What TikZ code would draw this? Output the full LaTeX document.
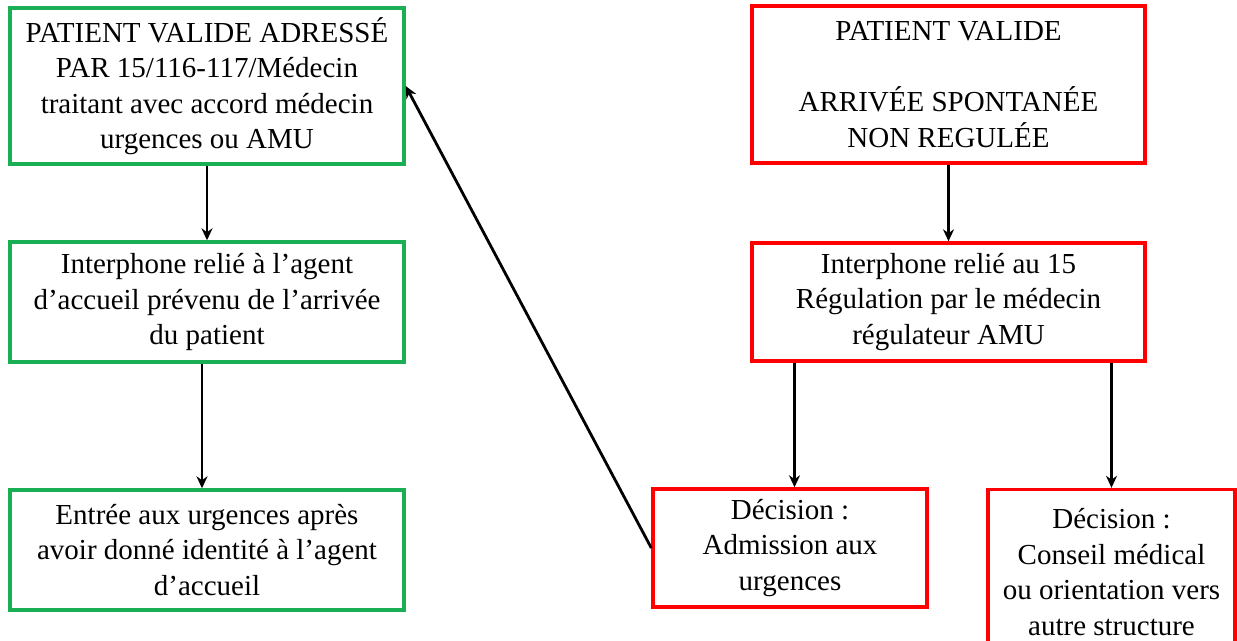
\documentclass[tikz,border=0pt]{standalone}
\usepackage{fontspec}
\setmainfont{Liberation Serif}
\usetikzlibrary{arrows.meta}
\definecolor{boxgreen}{HTML}{1AAF54}
\definecolor{boxred}{HTML}{FF0000}
\begin{document}
\begin{tikzpicture}[x=1pt,y=-1pt,
  box/.style={draw, line width=3.4pt, rectangle, inner sep=0pt, align=center,
    font=\fontsize{29}{35.5}\selectfont},
  greenbox/.style={box, draw=boxgreen},
  redbox/.style={box, draw=boxred},
  flow/.style={line width=2.8pt, -{Stealth[length=12pt,width=11pt]}}]
  \clip (0,0) rectangle (1237,640);
  \fill[white] (0,0) rectangle (1237,640);

  % left column: referred patient
  \node[greenbox, minimum width=394pt, minimum height=156pt] (g1) at (207,86)
    {PATIENT VALIDE ADRESSÉ\\PAR 15/116-117/Médecin\\traitant avec accord médecin\\urgences ou AMU};
  \node[greenbox, minimum width=394pt, minimum height=120pt] (g2) at (207,302)
    {Interphone relié à l’agent\\d’accueil prévenu de l’arrivée\\du patient};
  \node[greenbox, minimum width=394pt, minimum height=120pt] (g3) at (207,550)
    {Entrée aux urgences après\\avoir donné identité à l’agent\\d’accueil};

  % right column: spontaneous arrival
  \node[redbox, minimum width=393pt, minimum height=157pt] (r1) at (948.5,84.5)
    {PATIENT VALIDE\\[35.5pt]ARRIVÉE SPONTANÉE\\NON REGULÉE};
  \node[redbox, minimum width=393pt, minimum height=118pt] (r2) at (948.5,302)
    {Interphone relié au 15\\Régulation par le médecin\\régulateur AMU};
  \node[redbox, minimum width=274pt, minimum height=118pt] (adm) at (790,548)
    {Décision :\\Admission aux\\urgences};
  \node[redbox, minimum width=247pt, minimum height=165pt] (cons) at (1111.5,572)
    {Décision :\\Conseil médical\\ou orientation vers\\autre structure};

  % connectors
  \draw[flow] (g1.south) -- (g2.north);
  \draw[flow] ([xshift=-5pt]g2.south) -- ([xshift=-5pt]g3.north);
  \draw[flow] (r1.south) -- (r2.north);
  \draw[flow] ([xshift=4.5pt]r2.south -| adm.north) -- ([xshift=4.5pt]adm.north);
  \draw[flow] (r2.south -| cons.north) -- (cons.north);
  \draw[flow] (adm.west) -- (g1.east);
\end{tikzpicture}
\end{document}
